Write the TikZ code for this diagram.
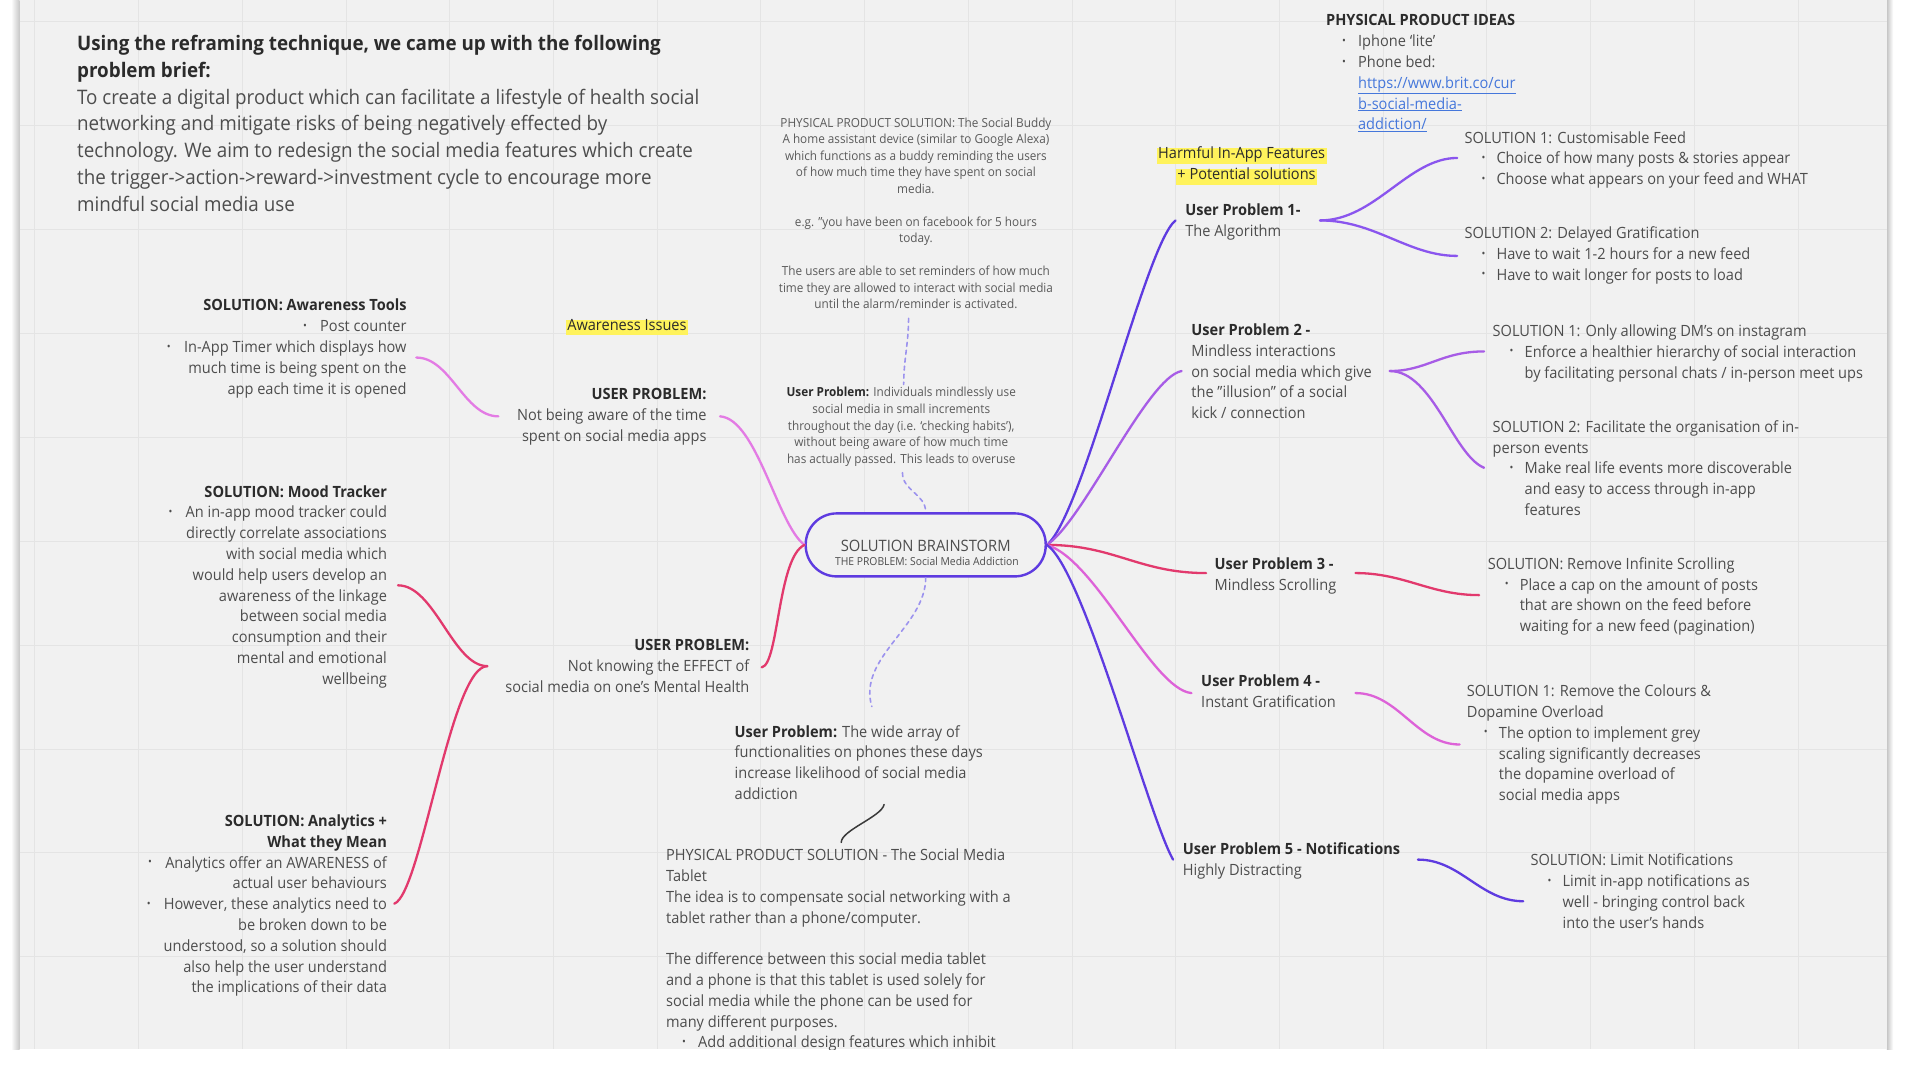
\documentclass[tikz,border=0pt]{standalone}
\usepackage{fontspec}
\setmainfont{Open Sans}[FakeStretch=0.94]
\usetikzlibrary{calc}
\definecolor{board}{HTML}{F1F1F1}
\definecolor{gridc}{HTML}{E4E4E4}
\definecolor{txt}{HTML}{4D4D4D}
\definecolor{txtb}{HTML}{2B2B2B}
\definecolor{smalltxt}{HTML}{5A5A5A}
\definecolor{hl}{HTML}{FFF35C}
\definecolor{linkc}{HTML}{4577DB}
\definecolor{cblue}{HTML}{5E3BE0}
\definecolor{cviolet}{HTML}{8A55EE}
\definecolor{cpurple}{HTML}{A75CE6}
\definecolor{ccrim}{HTML}{E2396D}
\definecolor{cpink}{HTML}{DD62D8}
\definecolor{cmag}{HTML}{E37BE4}
\definecolor{cdash}{HTML}{9C93EE}
\definecolor{cdark}{HTML}{3A3A3A}
\newcommand\bul{\raisebox{0.16em}{\scalebox{0.7}{•}}}
\newcommand\lb{\bul\hspace{0.85em}}
\newcommand\rb{\hspace*{17pt}\makebox[15pt][l]{\bul}}
\newcommand\rc{\hspace*{32pt}}
\newcommand\bt[1]{{\color{txtb}\bfseries #1}}
\tikzset{
  basetxt/.style={inner sep=0pt, outer sep=0pt, text=txt},
  mid/.style={font=\fontsize{15.5}{20.8}\selectfont},
  smalltext/.style={basetxt, font=\fontsize{12.5}{16.5}\selectfont, text=smalltxt, align=center, anchor=north},
  lft/.style={basetxt, mid, align=left, anchor=north west},
  rgt/.style={basetxt, mid, align=right, anchor=north east},
  hilite/.style={basetxt, mid, fill=hl, text=txtb, text height=0.75em, text depth=0.22em, inner xsep=1.5pt, inner ysep=2.9pt},
  branch/.style={line width=2.3pt, line cap=round},
  dashl/.style={cdash, line width=1.6pt, dash pattern=on 4pt off 4pt, line cap=round},
}
\begin{document}
\begin{tikzpicture}[x=1.2245pt, y=-1.2245pt]
\useasboundingbox (0,0) rectangle (1568,882);
\fill[white] (0,0) rectangle (1568,882);
\shade[left color=white, right color=black!22] (9,0) rectangle (16,857);
\shade[left color=black!22, right color=white] (1541,0) rectangle (1546,857);
\fill[board] (16,0) rectangle (1541,857);
\begin{scope}
\clip (16,0) rectangle (1541,857);
\foreach \k in {0,...,17} \draw[gridc, line width=1pt] (1468.4-84.7*\k,0) -- ++(0,857);
\foreach \k in {0,...,9} \draw[gridc, line width=1pt] (16,17.4+84.9*\k) -- ++(1525,0);

% ---------- text blocks ----------
\node[basetxt, anchor=north west, align=left, font=\fontsize{20}{26.9}\selectfont] (title) at (63,28.5)
 {\bt{Using the reframing technique, we came up with the following}\\
  \bt{problem brief:}\\
  To create a digital product which can facilitate a lifestyle of health social\\
  networking and mitigate risks of being negatively effected by\\
  technology. We aim to redesign the social media features which create\\
  the trigger->action->reward->investment cycle to encourage more\\
  mindful social media use};

\node[lft, font=\fontsize{15.5}{20.8}\selectfont] (ppi) at (1083,12)
 {\bt{PHYSICAL PRODUCT IDEAS}\\
  \hspace*{16pt}\makebox[16pt][l]{\bul}Iphone `lite'\\
  \hspace*{16pt}\makebox[16pt][l]{\bul}Phone bed:\\
  \hspace*{32pt}\textcolor{linkc}{\underline{https://www.brit.co/cur}}\\
  \hspace*{32pt}\textcolor{linkc}{\underline{b-social-media-}}\\
  \hspace*{32pt}\textcolor{linkc}{\underline{addiction/}}};

\node[smalltext] (buddy) at (748,96)
 {PHYSICAL PRODUCT SOLUTION: The Social Buddy\\
  A home assistant device (similar to Google Alexa)\\
  which functions as a buddy reminding the users\\
  of how much time they have spent on social\\
  media.\\[16.5pt]
  e.g. "you have been on facebook for 5 hours\\
  today.\\[16.5pt]
  The users are able to set reminders of how much\\
  time they are allowed to interact with social media\\
  until the alarm/reminder is activated.};

\node[smalltext, font=\fontsize{12.5}{16.8}\selectfont] (indiv) at (736,316)
 {\bt{User Problem:} Individuals mindlessly use\\
  social media in small increments\\
  throughout the day (i.e. `checking habits'),\\
  without being aware of how much time\\
  has actually passed. This leads to overuse};

\node[hilite] (harm1) at (1014,127.5) {Harmful In-App Features};
\node[hilite] (harm2) at (1018,144.5) {+ Potential solutions};
\node[hilite] (awiss) at (512,267.5) {Awareness Issues};

\node[rgt] (awt) at (332,244.3)
 {\bt{SOLUTION: Awareness Tools}\\
  \lb Post counter\\
  \lb In-App Timer which displays how\\
  much time is being spent on the\\
  app each time it is opened};

\node[rgt] (upa) at (577,317.3)
 {\bt{USER PROBLEM:}\\
  Not being aware of the time\\
  spent on social media apps};

\node[rgt] (mood) at (316,396.3)
 {\bt{SOLUTION: Mood Tracker}\\
  \lb An in-app mood tracker could\\
  directly correlate associations\\
  with social media which\\
  would help users develop an\\
  awareness of the linkage\\
  between social media\\
  consumption and their\\
  mental and emotional\\
  wellbeing};

\node[rgt] (upb) at (612,522.3)
 {\bt{USER PROBLEM:}\\
  Not knowing the EFFECT of\\
  social media on one's Mental Health};

\node[rgt] (anl) at (316,665.3)
 {\bt{SOLUTION: Analytics +}\\
  \bt{What they Mean}\\
  \lb Analytics offer an AWARENESS of\\
  actual user behaviours\\
  \lb However, these analytics need to\\
  be broken down to be\\
  understood, so a solution should\\
  also help the user understand\\
  the implications of their data};

\node[lft] (wide) at (600,592.3)
 {\bt{User Problem:} The wide array of\\
  functionalities on phones these days\\
  increase likelihood of social media\\
  addiction};

\node[lft] (tab) at (544,693.3)
 {PHYSICAL PRODUCT SOLUTION - The Social Media\\
  Tablet\\
  The idea is to compensate social networking with a\\
  tablet rather than a phone/computer.\\[20.8pt]
  The difference between this social media tablet\\
  and a phone is that this tablet is used solely for\\
  social media while the phone can be used for\\
  many different purposes.\\
  \hspace*{16pt}\makebox[16pt][l]{\bul}Add additional design features which inhibit};

% centre
\node[draw=cblue, line width=2.4pt, fill=board, rounded corners=31pt,
      minimum width=240pt, minimum height=63pt, inner sep=0pt] (hub) at (756,445) {};
\node[basetxt, font=\fontsize{15.7}{16}\selectfont] (hubt) at (756,446) {SOLUTION BRAINSTORM};
\node[basetxt, font=\fontsize{11}{12}\selectfont] (hubs) at (757,458.5) {THE PROBLEM: Social Media Addiction};

% right side problems
\node[lft] (up1) at (968,166.3) {\bt{User Problem 1-}\\The Algorithm};
\node[lft] (up2) at (973,264.3) {\bt{User Problem 2 -}\\Mindless interactions\\on social media which give\\the "illusion" of a social\\kick / connection};
\node[lft] (up3) at (992,455.3) {\bt{User Problem 3 -}\\Mindless Scrolling};
\node[lft] (up4) at (981,551.3) {\bt{User Problem 4 -}\\Instant Gratification};
\node[lft] (up5) at (966,688.3) {\bt{User Problem 5 - Notifications}\\Highly Distracting};

% right side solutions
\node[lft] (s11) at (1196,107.3) {SOLUTION 1: Customisable Feed\\
  \rb Choice of how many posts \& stories appear\\
  \rb Choose what appears on your feed and WHAT};
\node[lft] (s12) at (1196,185.3) {SOLUTION 2: Delayed Gratification\\
  \rb Have to wait 1-2 hours for a new feed\\
  \rb Have to wait longer for posts to load};
\node[lft] (s21) at (1219,265.3) {SOLUTION 1: Only allowing DM's on instagram\\
  \rb Enforce a healthier hierarchy of social interaction\\
  \rc by facilitating personal chats / in-person meet ups};
\node[lft] (s22) at (1219,343.3) {SOLUTION 2: Facilitate the organisation of in-\\
  person events\\
  \rb Make real life events more discoverable\\
  \rc and easy to access through in-app\\
  \rc features};
\node[lft] (s3) at (1215,455.3) {SOLUTION: Remove Infinite Scrolling\\
  \rb Place a cap on the amount of posts\\
  \rc that are shown on the feed before\\
  \rc waiting for a new feed (pagination)};
\node[lft] (s4) at (1198,559.3) {SOLUTION 1: Remove the Colours \&\\
  Dopamine Overload\\
  \rb The option to implement grey\\
  \rc scaling significantly decreases\\
  \rc the dopamine overload of\\
  \rc social media apps};
\node[lft] (s5) at (1250,697.3) {SOLUTION: Limit Notifications\\
  \rb Limit in-app notifications as\\
  \rc well - bringing control back\\
  \rc into the user's hands};

% ---------- connector end points ----------
\coordinate (upa-e) at (588,340);
\coordinate (upa-w) at (407,340);
\coordinate (awt-e) at (340,292);
\coordinate (upb-e) at (622,545);
\coordinate (upb-w) at (398,544);
\coordinate (mood-e) at (325,478);
\coordinate (anl-e) at (322,738);
\coordinate (up1-w) at (960,180);
\coordinate (up1-e) at (1078,180);
\coordinate (up2-w) at (965,303);
\coordinate (up2-e) at (1135,303);
\coordinate (up3-w) at (985,468);
\coordinate (up3-e) at (1107,468);
\coordinate (up4-w) at (973,566);
\coordinate (up4-e) at (1107,566);
\coordinate (up5-w) at (958,702);
\coordinate (up5-e) at (1158,702);
\coordinate (s11-w) at (1190,129);
\coordinate (s12-w) at (1190,209);
\coordinate (s21-w) at (1212,287);
\coordinate (s22-w) at (1212,382);
\coordinate (s3-w) at (1208,486);
\coordinate (s4-w) at (1192,608);
\coordinate (s5-w) at (1244,736);
\coordinate (buddy-s) at (742,260);
\coordinate (indiv-n) at (738,314);
\coordinate (indiv-s) at (737,386);
\coordinate (wide-n) at (712,577);
\coordinate (wide-s) at (722,657);
\coordinate (tab-n) at (687,688);

% ---------- connectors ----------
\draw[branch, cmag] (upa-e) .. controls +(30,2) and +(-22,-16) .. (hub.west);
\draw[branch, ccrim] (hub.west) .. controls +(-22,10) and +(14,-2) .. (upb-e);
\draw[branch, cmag] (awt-e) .. controls +(28,0) and +(-28,0) .. (upa-w);
\draw[branch, ccrim] (upb-w) .. controls +(-28,0) and +(30,0) .. (mood-e);
\draw[branch, ccrim] (upb-w) .. controls +(-30,0) and +(22,-8) .. (anl-e);

\draw[branch, cblue] (hub.east) .. controls +(30,-25) and +(-25,20) .. (up1-w);
\draw[branch, cpurple] (hub.east) .. controls +(30,-20) and +(-28,5) .. (up2-w);
\draw[branch, ccrim] (hub.east) .. controls +(55,0) and +(-55,0) .. (up3-w);
\draw[branch, cpink] (hub.east) .. controls +(40,12) and +(-32,-3) .. (up4-w);
\draw[branch, cblue] (hub.east) .. controls +(30,20) and +(-20,-35) .. (up5-w);

\draw[branch, cviolet] (up1-e) .. controls +(45,0) and +(-40,0) .. (s11-w);
\draw[branch, cviolet] (up1-e) .. controls +(45,0) and +(-40,0) .. (s12-w);
\draw[branch, cpurple] (up2-e) .. controls +(30,0) and +(-35,0) .. (s21-w);
\draw[branch, cpurple] (up2-e) .. controls +(35,0) and +(-25,-10) .. (s22-w);
\draw[branch, ccrim] (up3-e) .. controls +(40,0) and +(-40,0) .. (s3-w);
\draw[branch, cpink] (up4-e) .. controls +(35,0) and +(-35,0) .. (s4-w);
\draw[branch, cblue] (up5-e) .. controls +(35,0) and +(-35,0) .. (s5-w);

\draw[dashl] (buddy-s) .. controls +(0,20) and +(0,-20) .. (indiv-n);
\draw[dashl] (indiv-s) .. controls +(0,15) and +(0,-15) .. (hub.north);
\draw[dashl] (hub.south) .. controls +(0,40) and +(-12,-40) .. (wide-n);
\draw[cdark, line width=1.5pt, line cap=round] (wide-s) .. controls +(-2,10) and +(0,-10) .. (tab-n);
\end{scope}
\end{tikzpicture}
\end{document}
